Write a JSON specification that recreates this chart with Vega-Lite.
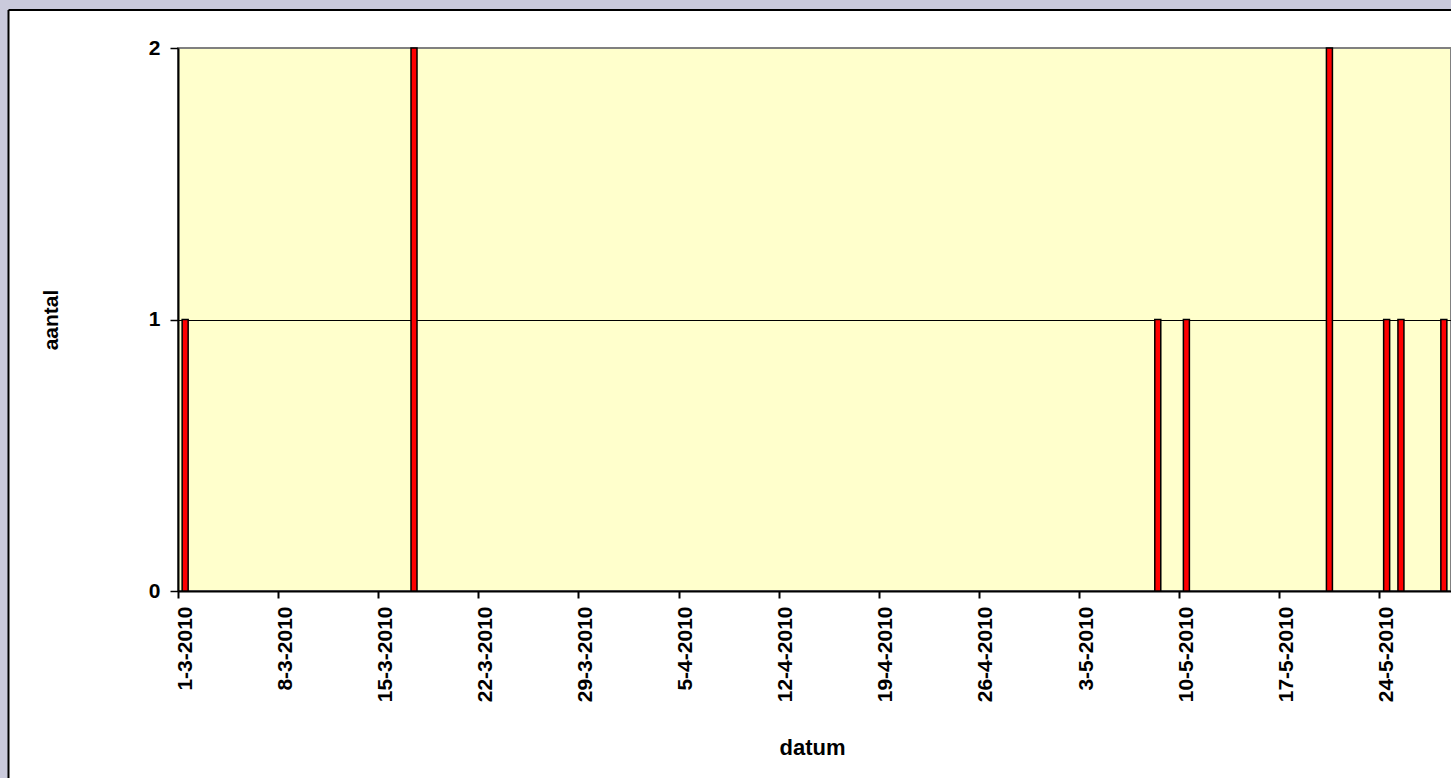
{
  "$schema": "https://vega.github.io/schema/vega-lite/v6.json",
  "autosize": {"type": "none"},
  "width": 1273,
  "height": 543,
  "padding": {"left": 178, "top": 48, "right": 0, "bottom": 187},
  "background": "white",
  "config": {
    "view": {"fill": "#FFFFCC", "stroke": "#808080", "strokeWidth": 2},
    "font": "Liberation Sans"
  },
  "resolve": {"axis": {"x": "independent", "y": "independent"}},
  "datasets": {
    "meldingen": [
      {"datum": "2010-03-01", "aantal": 1},
      {"datum": "2010-03-17", "aantal": 2},
      {"datum": "2010-05-08", "aantal": 1},
      {"datum": "2010-05-10", "aantal": 1},
      {"datum": "2010-05-20", "aantal": 2},
      {"datum": "2010-05-24", "aantal": 1},
      {"datum": "2010-05-25", "aantal": 1},
      {"datum": "2010-05-28", "aantal": 1}
    ],
    "kader": [{"deel": "rand"}]
  },
  "layer": [
    {
      "data": {"name": "kader"},
      "mark": {"type": "rect", "fill": "#CACADC", "clip": false},
      "encoding": {
        "x": {"datum": {"year": 2010, "month": 1, "date": 1, "utc": true}, "type": "temporal", "axis": null,
              "scale": {"type": "utc", "domain": [{"year": 2010, "month": 3, "date": 1, "utc": true}, {"year": 2010, "month": 5, "date": 29, "utc": true}], "nice": false}},
        "x2": {"datum": {"year": 2010, "month": 2, "date": 17, "hours": 3, "minutes": 36, "utc": true}},
        "y": {"datum": -3, "type": "quantitative", "axis": null, "scale": {"domain": [0, 2], "nice": false}},
        "y2": {"datum": 4}
      }
    },
    {
      "data": {"name": "kader"},
      "mark": {"type": "rect", "fill": "#CACADC", "clip": false},
      "encoding": {
        "x": {"datum": {"year": 2010, "month": 1, "date": 1, "utc": true}, "type": "temporal", "axis": null,
              "scale": {"type": "utc", "domain": [{"year": 2010, "month": 3, "date": 1, "utc": true}, {"year": 2010, "month": 5, "date": 29, "utc": true}], "nice": false}},
        "x2": {"datum": {"year": 2010, "month": 8, "date": 1, "utc": true}},
        "y": {"datum": 2.14, "type": "quantitative", "axis": null, "scale": {"domain": [0, 2], "nice": false}},
        "y2": {"datum": 4}
      }
    },
    {
      "data": {"name": "kader"},
      "mark": {"type": "rule", "color": "black", "strokeWidth": 2, "clip": false},
      "encoding": {
        "x": {"datum": {"year": 2010, "month": 2, "date": 17, "hours": 3, "minutes": 36, "utc": true}, "type": "temporal", "axis": null,
              "scale": {"type": "utc", "domain": [{"year": 2010, "month": 3, "date": 1, "utc": true}, {"year": 2010, "month": 5, "date": 29, "utc": true}], "nice": false}},
        "y": {"datum": 2.14, "type": "quantitative", "axis": null, "scale": {"domain": [0, 2], "nice": false}},
        "y2": {"datum": -3}
      }
    },
    {
      "data": {"name": "kader"},
      "mark": {"type": "rule", "color": "black", "strokeWidth": 2, "clip": false},
      "encoding": {
        "y": {"datum": 2.14, "type": "quantitative", "axis": null, "scale": {"domain": [0, 2], "nice": false}},
        "x": {"datum": {"year": 2010, "month": 2, "date": 17, "hours": 3, "minutes": 36, "utc": true}, "type": "temporal", "axis": null,
              "scale": {"type": "utc", "domain": [{"year": 2010, "month": 3, "date": 1, "utc": true}, {"year": 2010, "month": 5, "date": 29, "utc": true}], "nice": false}},
        "x2": {"datum": {"year": 2010, "month": 8, "date": 1, "utc": true}}
      }
    },
    {
      "data": {"name": "meldingen"},
      "mark": {"type": "bar", "width": 6, "fill": "#FF0000", "stroke": "black", "strokeWidth": 1.5},
      "encoding": {
        "x": {
          "field": "datum",
          "type": "temporal",
          "timeUnit": "utcyearmonthdate",
          "bandPosition": 0.5,
          "scale": {
            "type": "utc",
            "domain": [
              {"year": 2010, "month": 3, "date": 1, "utc": true},
              {"year": 2010, "month": 5, "date": 29, "utc": true}
            ],
            "nice": false
          },
          "axis": {
            "title": "datum",
            "values": [
              {"year": 2010, "month": 3, "date": 1, "utc": true},
              {"year": 2010, "month": 3, "date": 8, "utc": true},
              {"year": 2010, "month": 3, "date": 15, "utc": true},
              {"year": 2010, "month": 3, "date": 22, "utc": true},
              {"year": 2010, "month": 3, "date": 29, "utc": true},
              {"year": 2010, "month": 4, "date": 5, "utc": true},
              {"year": 2010, "month": 4, "date": 12, "utc": true},
              {"year": 2010, "month": 4, "date": 19, "utc": true},
              {"year": 2010, "month": 4, "date": 26, "utc": true},
              {"year": 2010, "month": 5, "date": 3, "utc": true},
              {"year": 2010, "month": 5, "date": 10, "utc": true},
              {"year": 2010, "month": 5, "date": 17, "utc": true},
              {"year": 2010, "month": 5, "date": 24, "utc": true}
            ],
            "labelExpr": "utcFormat(datum.value, '%-d-%-m-%Y')",
            "labelAngle": -90,
            "labelAlign": "right",
            "labelBaseline": "middle",
            "labelOffset": 7,
            "labelPadding": 8,
            "labelFontSize": 21,
            "labelFontWeight": "bold",
            "labelColor": "black",
            "labelOverlap": false,
            "labelFlush": false,
            "tickSize": 7,
            "tickWidth": 2,
            "tickColor": "black",
            "domainColor": "black",
            "domainWidth": 2,
            "grid": false,
            "titleFontSize": 22,
            "titleFontWeight": "bold",
            "titleColor": "black",
            "titleX": 634,
            "titleY": 163,
            "titleAlign": "center",
            "titleBaseline": "alphabetic"
          }
        },
        "y": {
          "field": "aantal",
          "type": "quantitative",
          "scale": {"domain": [0, 2], "nice": false},
          "axis": {
            "title": "aantal",
            "values": [0, 1, 2],
            "labelExpr": "format(datum.value, 'd')",
            "labelFontSize": 21,
            "labelFontWeight": "bold",
            "labelColor": "black",
            "labelPadding": 10,
            "labelOverlap": false,
            "tickSize": 8,
            "tickWidth": 1.5,
            "tickColor": "black",
            "domainColor": "black",
            "domainWidth": 2,
            "grid": true,
            "gridColor": {"condition": {"test": "datum.value == 2", "value": "#808080"}, "value": "black"},
            "gridWidth": 1.2,
            "gridOpacity": 1,
            "titleFontSize": 21,
            "titleFontWeight": "bold",
            "titleColor": "black",
            "titleAngle": -90,
            "titleX": -121,
            "titleY": 271.5,
            "titleAlign": "center",
            "titleBaseline": "alphabetic"
          }
        }
      }
    }
  ]
}
